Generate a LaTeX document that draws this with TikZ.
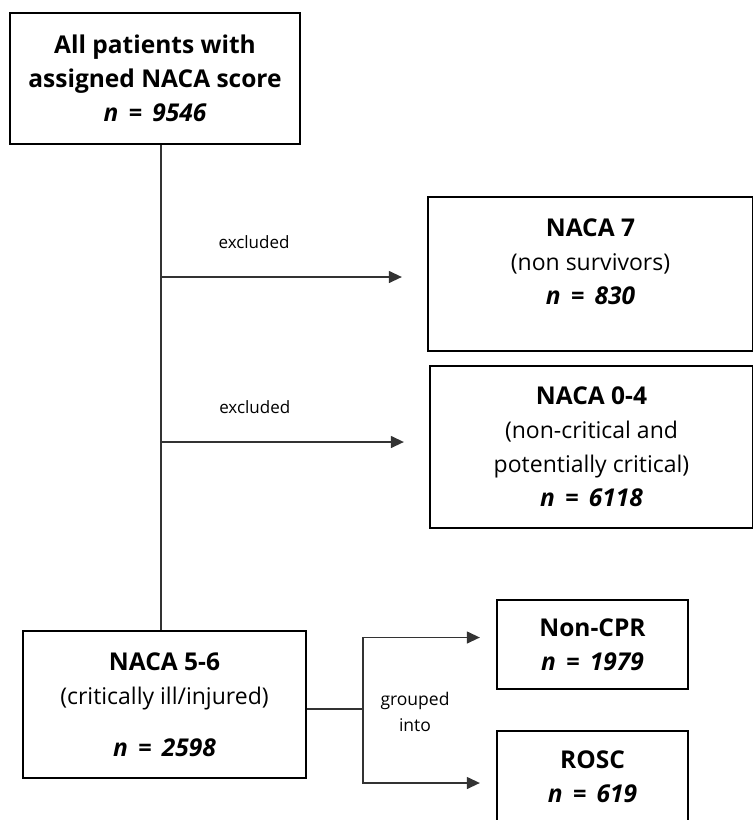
\documentclass[tikz,border=0pt]{standalone}
\usepackage{fontspec}
\setmainfont{Open Sans}
\usepackage{tikz}
\usetikzlibrary{positioning}
\usetikzlibrary{arrows.meta}

\newcommand{\hd}[1]{{\fontsize{24.5}{34}\selectfont\bfseries #1}}
\newcommand{\nval}[1]{{\fontsize{24.5}{34}\selectfont\bfseries\itshape
    n\hspace{0.42em}=\hspace{0.42em}#1}}

\begin{document}
\begin{tikzpicture}[x=1pt, y=-1pt]
    \tikzstyle{box}=[rectangle, draw=black, line width=2.3pt, align=center,
            inner sep=0pt, font=\fontsize{23}{34}\selectfont]
    \tikzstyle{link}=[draw=black!80, line width=1.3pt]
    \tikzstyle{arrow}=[link, -{Triangle[length=13pt, width=12pt]}]
    \tikzstyle{note}=[font=\fontsize{17}{26}\selectfont, align=center]

        \useasboundingbox (0,0) rectangle (753,820);

        \node[box, minimum width=290, minimum height=131] (all) at (155,78.5)
            {\hd{All patients with}\\ \hd{assigned NACA score}\\ \nval{9546}};

        \node[box, minimum width=325, minimum height=154] (naca7) at (590.5,274)
            {\hd{NACA 7}\\ (non survivors)\\ \nval{830}\\[-10pt]\mbox{}};

        \node[box, minimum width=323, minimum height=162] (naca04) at (591.5,447)
            {\hd{NACA 0-4}\\ (non-critical and\\ potentially critical)\\
             \nval{6118}};

        \node[box, minimum width=283, minimum height=147] (naca56) at (164.5,704.5)
            {\hd{NACA 5-6}\\ (critically ill/injured)\\[18pt] \nval{2598}};

        \node[box, minimum width=191, minimum height=89] (noncpr) at (592.5,644.5)
            {\hd{Non-CPR}\\ \nval{1979}};

        \node[box, minimum width=191, minimum height=92] (rosc) at (592.5,777)
            {\hd{ROSC}\\ \nval{619}};

        \coordinate (spine) at (161,0);
        \draw[link] (spine |- all.south) -- (spine |- naca56.north);

        \foreach \dest/\y in {naca7/277, naca04/442}
        {
            \coordinate (exc\dest) at (161,\y);
            \draw[arrow, shorten >=25pt] (exc\dest) -- (exc\dest -| \dest.west)
            node[note, pos=0.35, yshift=35pt] {excluded};
        }

        \coordinate (fork) at (363,709);
        \draw[link] (fork -| naca56.east) -- (fork);
        \draw[arrow] (fork) |- ([xshift=-16pt, yshift=7pt]noncpr.west);
        \draw[arrow] (fork) |- ([xshift=-16pt, yshift=-6pt]rosc.west);
        \node[note, font=\fontsize{17.5}{26}\selectfont] (grouped) at (415,712)
            {grouped\\into};
    \end{tikzpicture}
\end{document}
